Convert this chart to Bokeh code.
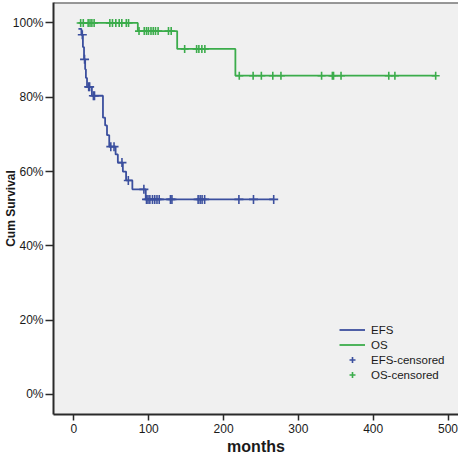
import math
from bokeh.plotting import figure
from bokeh.models import Range1d, FixedTicker, Legend, LegendItem, Span, Title
from bokeh.embed import file_html
from bokeh.resources import INLINE

# ---- data ----
efs_times = [6, 10, 12, 13.5, 15, 16, 17.5, 24, 38.8, 41.7, 44.2, 47.2, 55.7, 58.7, 65.4, 69.7, 78.1, 96]
efs_surv = [98.4, 96.8, 93.5, 90.2, 87.5, 85.2, 82.8, 80.4, 74.5, 72.4, 69.8, 66.7, 64.6, 62.4, 60.0, 57.6, 55.2, 52.5]
efs_end = 267
efs_censored = [11.2, 14.2, 19.7, 21, 26, 27.5, 49.3, 53.6, 64.2, 72.7, 93.5, 97, 99, 101.5, 105, 108, 111, 114,
                129, 131, 166, 168.7, 171.3, 174.7, 220.5, 240, 267]

os_times = [6, 85.4, 138, 215.8]
os_surv = [100.0, 97.8, 93.0, 85.8]
os_end = 483.5
os_censored = [9, 12.5, 19, 21.5, 24, 27, 48, 51.5, 56, 60.5, 64, 70, 73, 87, 94, 97, 99.6, 103, 106, 109, 112.5,
               126.4, 130, 148, 164, 167, 171, 175, 221, 239.5, 250.5, 265.8, 276.7, 331, 345.4, 347, 357,
               420.8, 429, 483.5]

x_ticks = [0, 100, 200, 300, 400, 500]
y_ticks = [0, 20, 40, 60, 80, 100]
y_tick_labels = ["0%", "20%", "40%", "60%", "80%", "100%"]
series_names = ["EFS", "OS", "EFS-censored", "OS-censored"]
x_title = "months"
y_title = "Cum Survival"


def surv_at(times, surv, t):
    v = surv[0]
    for ti, si in zip(times, surv):
        if ti <= t:
            v = si
    return v


BLUE = "#3B4F9E"
GREEN = "#3BAC4B"
FONT = "Liberation Sans"
X0, X1 = -27.3, 514
Y0, Y1 = -5.4, 105.5

p = figure(width=458, height=458, output_backend="svg", toolbar_location=None,
           x_range=Range1d(X0, X1), y_range=Range1d(Y0, Y1),
           min_border_left=48, min_border_right=0, min_border_top=2, min_border_bottom=44)
p.background_fill_color = "#F0F0F0"
p.border_fill_color = "white"
p.outline_line_color = None
p.grid.visible = False

efs_r = p.step(efs_times + [efs_end], efs_surv + [efs_surv[-1]], mode="after",
               line_color=BLUE, line_width=1.8)
os_r = p.step(os_times + [os_end], os_surv + [os_surv[-1]], mode="after",
              line_color=GREEN, line_width=1.8)
efs_c = p.scatter(efs_censored, [surv_at(efs_times, efs_surv, t) for t in efs_censored],
                  marker="cross", size=9, line_color=BLUE, line_width=1.6)
os_c = p.scatter(os_censored, [surv_at(os_times, os_surv, t) for t in os_censored],
                 marker="cross", size=8, line_color=GREEN, line_width=1.6)

# top border of frame
p.add_layout(Span(location=Y1, dimension="width", line_color="#3a3a3a", line_width=2))

for ax in (p.xaxis[0], p.yaxis[0]):
    ax.axis_line_color = "#2a2a2a"
    ax.axis_line_width = 2
    ax.major_tick_line_color = "#2a2a2a"
    ax.major_tick_line_width = 1.5
    ax.major_tick_in = 0
    ax.minor_tick_line_color = None
    ax.major_label_text_font = FONT
    ax.major_label_text_font_size = "12px"
    ax.major_label_text_color = "#1a1a1a"
    ax.axis_label_text_font = FONT
    ax.axis_label_text_font_style = "bold"
    ax.axis_label_text_color = "#1a1a1a"

p.xaxis.ticker = FixedTicker(ticks=x_ticks)
p.xaxis.major_tick_out = 6
p.xaxis.major_label_standoff = 3

p.add_layout(Title(text=x_title, align="center", text_font=FONT, text_font_style="bold",
                   text_font_size="16px", text_color="#1a1a1a", standoff=0), "below")

p.yaxis.ticker = FixedTicker(ticks=y_ticks)
p.yaxis.major_label_overrides = {t: s for t, s in zip(y_ticks, y_tick_labels)}
p.yaxis.major_tick_out = 8
p.yaxis.major_label_standoff = 2
p.yaxis.axis_label = y_title
p.yaxis.axis_label_text_font_size = "12px"
p.yaxis.axis_label_standoff = -8

legend = Legend(items=[LegendItem(label=series_names[0], renderers=[efs_r]),
                       LegendItem(label=series_names[1], renderers=[os_r]),
                       LegendItem(label=series_names[2], renderers=[efs_c]),
                       LegendItem(label=series_names[3], renderers=[os_c])],
                location=(286, 32), background_fill_alpha=0, border_line_color=None,
                padding=0, margin=0, spacing=0, glyph_width=26, glyph_height=15,
                label_height=15, label_standoff=6, label_text_font=FONT,
                label_text_font_size="11.5px", label_text_color="#1a1a1a")
p.add_layout(legend)

open("out.html", "w").write(file_html(p, INLINE))
